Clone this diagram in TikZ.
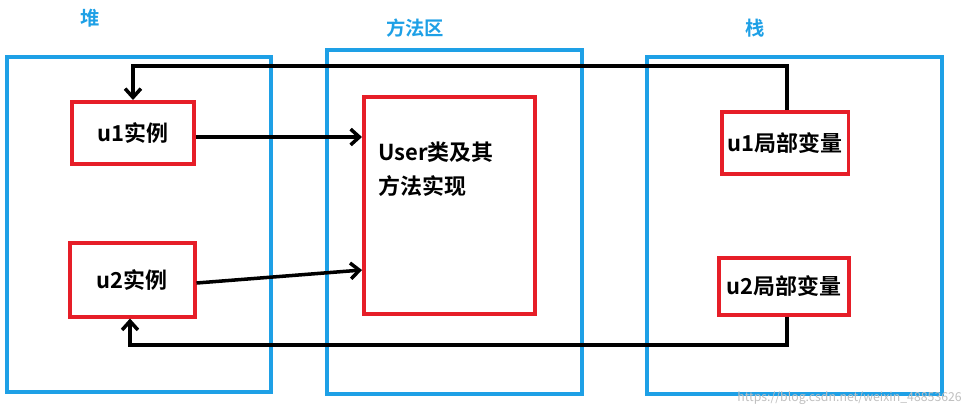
\documentclass[tikz,border=0pt]{standalone}
\usepackage{fontspec}
\setmainfont{Noto Sans CJK SC}
\newfontfamily\cjkb{Noto Sans CJK SC Bold}
\usetikzlibrary{arrows.meta}
\definecolor{bl}{RGB}{30,160,230}
\definecolor{rd}{RGB}{230,30,40}
\begin{document}
\begin{tikzpicture}[x=0.02cm,y=-0.02cm,
  area/.style={draw=bl,line width=2.2pt},
  obj/.style={draw=rd,line width=2pt},
  lbl/.style={font=\cjkb\fontsize{12.5}{15}\selectfont},
  ttl/.style={font=\cjkb\fontsize{11}{13}\selectfont,text=bl},
  con/.style={line width=2pt,-{Straight Barb[length=5pt,width=9pt]}}]
\useasboundingbox (0,0) rectangle (976,414);
\node[area,minimum width=264*0.02cm,minimum height=335*0.02cm,anchor=north west] (heap) at (5,55) {};
\node[area,minimum width=255*0.02cm,minimum height=344*0.02cm,anchor=north west] (meth) at (325,48) {};
\node[area,minimum width=295*0.02cm,minimum height=337*0.02cm,anchor=north west] (stack) at (645,55) {};
\node[ttl] (t1) at (90,18) {堆};
\node[ttl] (t2) at (415,28) {方法区};
\node[ttl] (t3) at (755,28) {栈};
\node[obj,lbl,minimum width=122*0.02cm,minimum height=62*0.02cm,anchor=north west] (u1) at (70,100) {u1实例};
\node[obj,lbl,minimum width=125*0.02cm,minimum height=74*0.02cm,anchor=north west] (u2) at (68,241) {u2实例};
\node[obj,minimum width=171*0.02cm,minimum height=217*0.02cm,anchor=north west] (user) at (362,95) {};
\node[lbl,anchor=north west,align=left] (ut) at (372,136) {User类及其\\[4pt]方法实现};
\node[obj,lbl,minimum width=125*0.02cm,minimum height=62*0.02cm,anchor=north west] (l1) at (720,110) {u1局部变量};
\node[obj,lbl,minimum width=130*0.02cm,minimum height=57*0.02cm,anchor=north west] (l2) at (717,256) {u2局部变量};
\coordinate (a1) at (787,66); \coordinate (a2) at (133,66);
\draw[con] (l1.north -| a1) -- (a1) -- (a2) -- (u1.north -| a2);
\coordinate (b1) at (787,345); \coordinate (b2) at (130,345);
\draw[con] (l2.south -| b1) -- (b1) -- (b2) -- (u2.south -| b2);
\draw[con] (u1.east |- 0,137) -- (user.west |- 0,137);
\draw[con] (u2.east |- 0,283) -- (user.west |- 0,270);
\node[text=black!25,font=\fontsize{7}{8}\selectfont,anchor=east] (wm) at (968,398) {https://blog.csdn.net/weixin\_48853626};
\end{tikzpicture}
\end{document}
